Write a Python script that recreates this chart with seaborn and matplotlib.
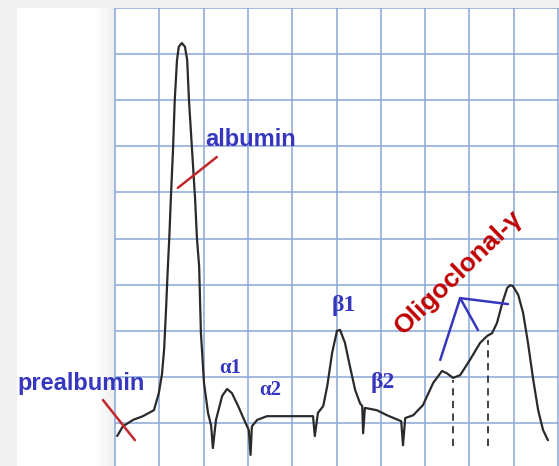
import numpy as np
import pandas as pd
import matplotlib
matplotlib.use("Agg")
import matplotlib.pyplot as plt
import seaborn as sns

# densitometry trace (x = migration in grid units, y = absorbance in grid units)
mobility = [0.05, 0.18, 0.41, 0.63, 0.88, 0.99, 1.06, 1.11, 1.15, 1.19, 1.23, 1.26, 1.31, 1.35,
            1.40, 1.44, 1.51, 1.58, 1.63, 1.67, 1.74, 1.81, 1.85, 1.90, 1.94, 2.01, 2.10, 2.17,
            2.21, 2.28, 2.42, 2.53, 2.64, 2.78, 2.93, 3.02, 3.06, 3.09, 3.21, 3.43, 3.72, 4.47,
            4.51, 4.58, 4.70, 4.79, 4.90, 5.01, 5.08, 5.19, 5.30, 5.42, 5.53, 5.58, 5.60, 5.64,
            5.91, 6.14, 6.39, 6.46, 6.50, 6.55, 6.73, 6.95, 7.18, 7.38, 7.49, 7.63, 7.79, 8.01,
            8.24, 8.40, 8.51, 8.62, 8.74, 8.85, 8.92, 8.98, 9.10, 9.21, 9.32, 9.44, 9.55, 9.66,
            9.77]
absorbance = [-0.28, -0.07, 0.07, 0.15, 0.28, 0.65, 1.05, 1.60, 2.40, 3.30, 4.10, 4.84, 5.92, 7.01,
              7.87, 8.16, 8.24, 8.16, 7.87, 7.01, 5.92, 4.84, 4.01, 3.40, 1.95, 0.87, 0.22, -0.05,
              -0.54, 0.07, 0.59, 0.74, 0.65, 0.37, 0.04, -0.15, -0.69, -0.07, 0.07, 0.15, 0.15,
              0.15, -0.28, 0.22, 0.37, 0.80, 1.52, 2.00, 2.02, 1.74, 1.24, 0.72, 0.43, 0.37, -0.22,
              0.33, 0.28, 0.17, 0.07, 0.04, -0.48, 0.11, 0.17, 0.39, 0.87, 1.13, 1.08, 0.98, 1.04,
              1.37, 1.74, 1.89, 1.95, 2.17, 2.60, 2.93, 2.99, 2.97, 2.78, 2.39, 1.74, 0.93, 0.28,
              -0.15, -0.37]

# dashed markers under the oligoclonal bands
band_x = [7.63, 8.42]
band_top = [0.93, 1.80]
band_bottom = [-0.50, -0.50]

# peak labels
peak_labels = ["α1", "α2", "β1", "β2"]
peak_x = [2.35, 3.25, 4.88, 5.76]
peak_y = [1.08, 0.61, 2.43, 0.76]
peak_size = [15, 15, 17, 17]

blue = "#3636bf"
red = "#c0282d"
grid_col = "#8aa6d8"

sns.set_style("white")
fig = plt.figure(figsize=(5.59, 4.66), dpi=100, facecolor="#f1f1f1")
ax = fig.add_axes([17 / 559, 0, 542 / 559, 458 / 466])
ax.set_xlim(-2.21, 10.02)
ax.set_ylim(-0.93, 9.0)
ax.set_facecolor("white")
for s in ax.spines.values():
    s.set_visible(False)
ax.set_xticks([])
ax.set_yticks([])

# paper fold shadow left of the grid
shade = np.linspace(1.0, 0.935, 20).reshape(1, -1)
ax.imshow(np.dstack([shade, shade, shade]), extent=[-0.45, 0, -0.93, 9.0],
          aspect="auto", zorder=0, interpolation="bilinear")

# graph paper grid
ax.vlines(range(0, 11), -0.93, 9.0, color=grid_col, lw=1.1, zorder=1)
ax.hlines(range(0, 10), 0, 10.02, color=grid_col, lw=1.1, zorder=1)

df = pd.DataFrame({"mobility": mobility, "absorbance": absorbance})
sns.lineplot(data=df, x="mobility", y="absorbance", sort=False, color="#2a2a2a",
             lw=1.6, ax=ax, zorder=3)
ax.set_xlabel("")
ax.set_ylabel("")

for bx, bt, bb in zip(band_x, band_top, band_bottom):
    ax.plot([bx, bx], [bb, bt], color="#333333", lw=1.3, ls=(0, (4, 3)), zorder=3)

# albumin / prealbumin pointers
ax.plot([1.42, 2.30], [5.10, 5.77], color=red, lw=1.8, zorder=4)
ax.plot([-0.27, 0.45], [0.50, -0.37], color=red, lw=1.8, zorder=4)
ax.text(2.03, 6.01, "albumin", color=blue, fontsize=17, fontweight="bold",
        family="Liberation Sans", ha="left", va="baseline", zorder=5)
ax.text(-2.21, 0.72, "prealbumin", color=blue, fontsize=17, fontweight="bold",
        family="Liberation Sans", ha="left", va="baseline", zorder=5)

for lab, lx, ly, fs in zip(peak_labels, peak_x, peak_y, peak_size):
    ax.text(lx, ly, lab, color=blue, fontsize=fs, fontweight="bold",
            family="Liberation Serif", ha="left", va="baseline", zorder=5)

# oligoclonal pointer lines
vx, vy = 7.79, 2.71
for ex, ey in [(7.34, 1.37), (8.19, 2.02), (8.87, 2.58)]:
    ax.plot([vx, ex], [vy, ey], color=blue, lw=1.8, zorder=4)
ax.text(6.50, 1.90, "Oligoclonal-γ", color="#c00000", fontsize=19, fontweight="bold",
        family="Liberation Sans", rotation=44, rotation_mode="anchor",
        ha="left", va="baseline", zorder=5)

fig.savefig("out.png", dpi=100, facecolor=fig.get_facecolor())
